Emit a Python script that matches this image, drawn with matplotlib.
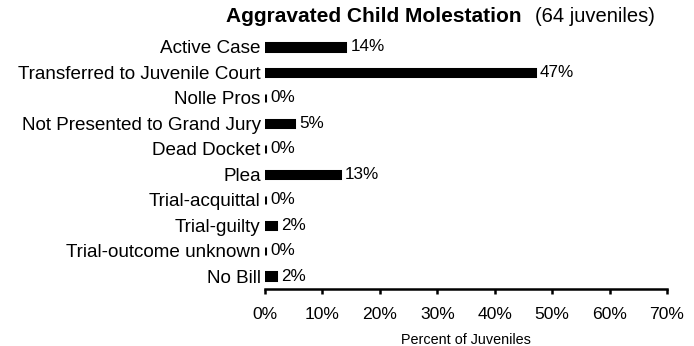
import matplotlib.pyplot as plt

plt.rcParams['font.family'] = ['Liberation Sans', 'DejaVu Sans']

categories = ['Active Case', 'Transferred to Juvenile Court', 'Nolle Pros',
              'Not Presented to Grand Jury', 'Dead Docket', 'Plea',
              'Trial-acquittal', 'Trial-guilty', 'Trial-outcome unknown', 'No Bill']
percents = [14, 47, 0, 5, 0, 13, 0, 2, 0, 2]
xticks = [0, 10, 20, 30, 40, 50, 60, 70]

fig = plt.figure(figsize=(6.94, 3.46), dpi=100)
ax = fig.add_axes([0.3818, 0.1647, 0.5793, 0.7363])

ypos = range(len(categories))
# edge line keeps the 0% bars visible as a small stub
ax.barh(ypos, percents, height=0.3, color='black', edgecolor='black', linewidth=2.2)
for y, v in zip(ypos, percents):
    ax.text(v + 0.9, y, f'{v}%', va='center', ha='left', fontsize=12.3)

ax.set_yticks(list(ypos))
ax.set_yticklabels(categories, fontsize=13.6)
ax.set_ylim(len(categories) - 0.5, -0.5)
ax.set_xlim(0, 70)
ax.set_xticks(xticks)
ax.set_xticklabels([f'{t}%' for t in xticks], fontsize=12.6)
ax.tick_params(axis='y', length=0, pad=3)
ax.tick_params(axis='x', direction='out', length=3.6, width=1.8, pad=9)
for s in ['top', 'right', 'left']:
    ax.spines[s].set_visible(False)
ax.spines['bottom'].set_linewidth(1.8)
ax.set_xlabel('Percent of Juveniles', fontsize=10.4, labelpad=8)

fig.text(0.751, 0.952, 'Aggravated Child Molestation', ha='right', va='center',
         fontsize=15, fontweight='bold')
fig.text(0.771, 0.952, '(64 juveniles)', ha='left', va='center', fontsize=14.5)

fig.savefig('out.png', dpi=100)
